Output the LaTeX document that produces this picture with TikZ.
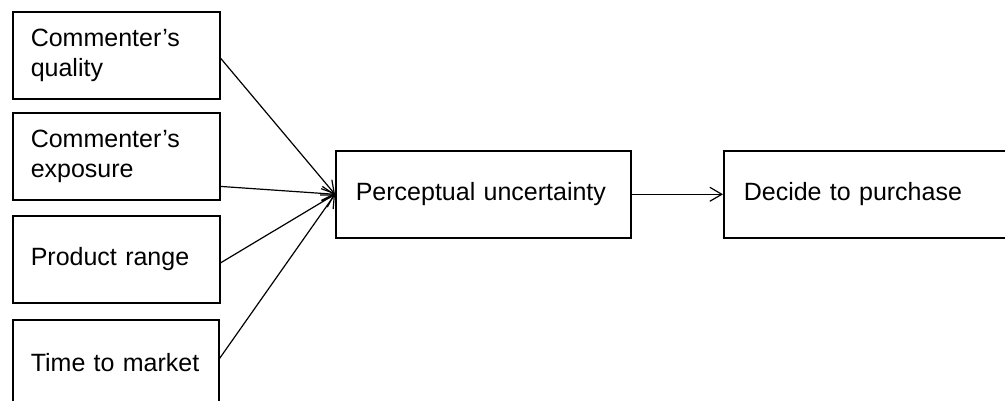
\documentclass[tikz,border=0pt]{standalone}
\usepackage{fontspec}
\setmainfont{Liberation Sans}
\usetikzlibrary{arrows.meta,calc}
\begin{document}
\begin{tikzpicture}[x=1pt,y=-1pt,
  box/.style={draw,line width=1.6pt,anchor=north west,inner xsep=18pt,inner ysep=0pt,
    align=left,font={\fontsize{25}{30}\selectfont\hyphenpenalty=10000\relax}},
  flow/.style={line width=1.2pt,-{Straight Barb[length=12pt,width=14pt,line width=1.2pt]}}]
  % canvas
  \path[use as bounding box,clip] (0,0) rectangle (1005,401);
  \fill[white] (0,0) rectangle (1005,401);
  % factor boxes
  \node[box,minimum width=207pt,minimum height=87.5pt,text width=171pt] (q) at (12,11) {Commenter’s\\quality};
  \node[box,minimum width=207pt,minimum height=87pt,text width=171pt] (e) at (12,112) {Commenter’s\\exposure};
  \node[box,minimum width=207pt,minimum height=87pt,text width=171pt] (r) at (12,215) {Product range};
  \node[box,minimum width=206pt,minimum height=86pt,text width=170pt] (t) at (12,319) {Time to market};
  % mediator and outcome
  \node[box,inner xsep=20pt,minimum width=295pt,minimum height=87pt,text width=255pt] (u) at (335,150) {Perceptual uncertainty};
  \node[box,inner xsep=20pt,minimum width=295pt,minimum height=87pt,text width=255pt] (d) at (723,150) {Decide to purchase};
  % connectors
  \draw[flow] ($(q.north east)!0.53!(q.south east)$) -- (u.west);
  \draw[flow] ($(e.north east)!0.84!(e.south east)$) -- (u.west);
  \draw[flow] ($(r.north east)!0.54!(r.south east)$) -- (u.west);
  \draw[flow] ($(t.north east)!0.45!(t.south east)$) -- (u.west);
  \draw[flow] (u.east) -- (d.west);
\end{tikzpicture}
\end{document}
